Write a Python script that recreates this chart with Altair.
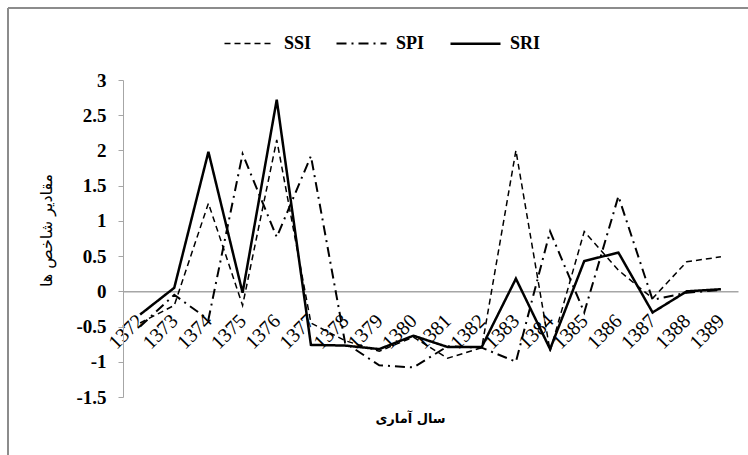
import altair as alt
import pandas as pd

years = [str(y) for y in range(1372, 1390)]
ssi = [-0.45, -0.2, 1.25, -0.2, 2.15, -0.45, -0.7, -0.85, -0.65, -0.95, -0.8, 2.0, -0.85, 0.85, 0.3, -0.1, 0.42, 0.49]
spi = [-0.5, -0.05, -0.4, 1.95, 0.77, 1.92, -0.73, -1.05, -1.08, -0.78, -0.8, -1.0, 0.85, -0.3, 1.35, -0.12, -0.02, 0.02]
sri = [-0.33, 0.05, 1.98, -0.02, 2.72, -0.76, -0.77, -0.82, -0.63, -0.79, -0.79, 0.18, -0.82, 0.43, 0.55, -0.3, 0.0, 0.03]
series_names = ["SSI", "SPI", "SRI"]
y_ticks = [-1.5, -1, -0.5, 0, 0.5, 1, 1.5, 2, 2.5, 3]

rows = []
for name, vals in zip(series_names, [ssi, spi, sri]):
    for i, (yr, v) in enumerate(zip(years, vals)):
        rows.append({"year": yr, "value": v, "series": name, "order": i})
df = pd.DataFrame(rows)

W, H = 615, 317
SERIF = "Liberation Serif"
ARABIC = "DejaVu Sans"

lines = alt.Chart(df).mark_line(color="black", strokeCap="butt").encode(
    x=alt.X("year:O", sort=years,
            scale=alt.Scale(type="point", padding=0.5),
            axis=alt.Axis(title="سال آماری", offset=-H / 3, ticks=False,
                          domainColor="#a6a6a6", domainWidth=1.5,
                          labelAngle=-45, labelAlign="right", labelBaseline="middle",
                          labelFont=SERIF, labelFontSize=20, labelColor="black",
                          labelPadding=26, labelOverlap=False,
                          titleFont=ARABIC, titleFontSize=13, titleFontWeight="bold",
                          titleColor="black", titleX=287, titleY=127,
                          titleAlign="center", titleBaseline="middle", titleAngle=0)),
    y=alt.Y("value:Q",
            scale=alt.Scale(domain=[-1.5, 3], nice=False, zero=False),
            axis=alt.Axis(title="مقادیر شاخص ها", values=y_ticks, grid=False,
                          labelExpr="datum.value + ''",
                          domainColor="#a6a6a6", tickColor="#a6a6a6", tickSize=5,
                          labelFont=SERIF, labelFontSize=19, labelFontWeight="bold",
                          labelColor="black", labelPadding=12,
                          titleFont=ARABIC, titleFontSize=16, titleFontWeight="normal",
                          titleColor="black", titleAngle=-90, titleX=-77, titleY=150,
                          titleAlign="center", titleBaseline="middle")),
    strokeDash=alt.StrokeDash("series:N",
                              scale=alt.Scale(domain=series_names,
                                              range=[[6, 4], [10, 5, 2, 5], [1, 0]]),
                              legend=alt.Legend(title=None, orient="none", direction="horizontal",
                                                legendX=100, legendY=-63, columns=3,
                                                symbolType="stroke", symbolSize=2500,
                                                symbolStrokeColor="black",
                                                labelFont=SERIF, labelFontSize=18,
                                                labelFontWeight="bold", labelColor="black",
                                                labelOffset=8, columnPadding=20)),
    strokeWidth=alt.StrokeWidth("series:N",
                                scale=alt.Scale(domain=series_names, range=[1.5, 2.5, 3.2]),
                                legend=None),
    order="order:Q",
)

border_data = alt.Data(values=[{"k": 1}])
top_border = alt.Chart(border_data).mark_rule(color="#8c8c8c", strokeWidth=2).encode(
    x=alt.value(-115), x2=alt.value(700), y=alt.value(-72))
left_border = alt.Chart(border_data).mark_rule(color="#8c8c8c", strokeWidth=2).encode(
    x=alt.value(-115), y=alt.value(-72), y2=alt.value(400))

chart = alt.layer(top_border, left_border, lines).properties(
    width=W, height=H,
    autosize=alt.AutoSizeParams(type="none"),
    padding={"left": 123, "top": 80, "right": 10, "bottom": 58},
    background="white",
).configure_view(stroke=None)

chart.save("out.html", embed_options={"renderer": "svg", "actions": False})
